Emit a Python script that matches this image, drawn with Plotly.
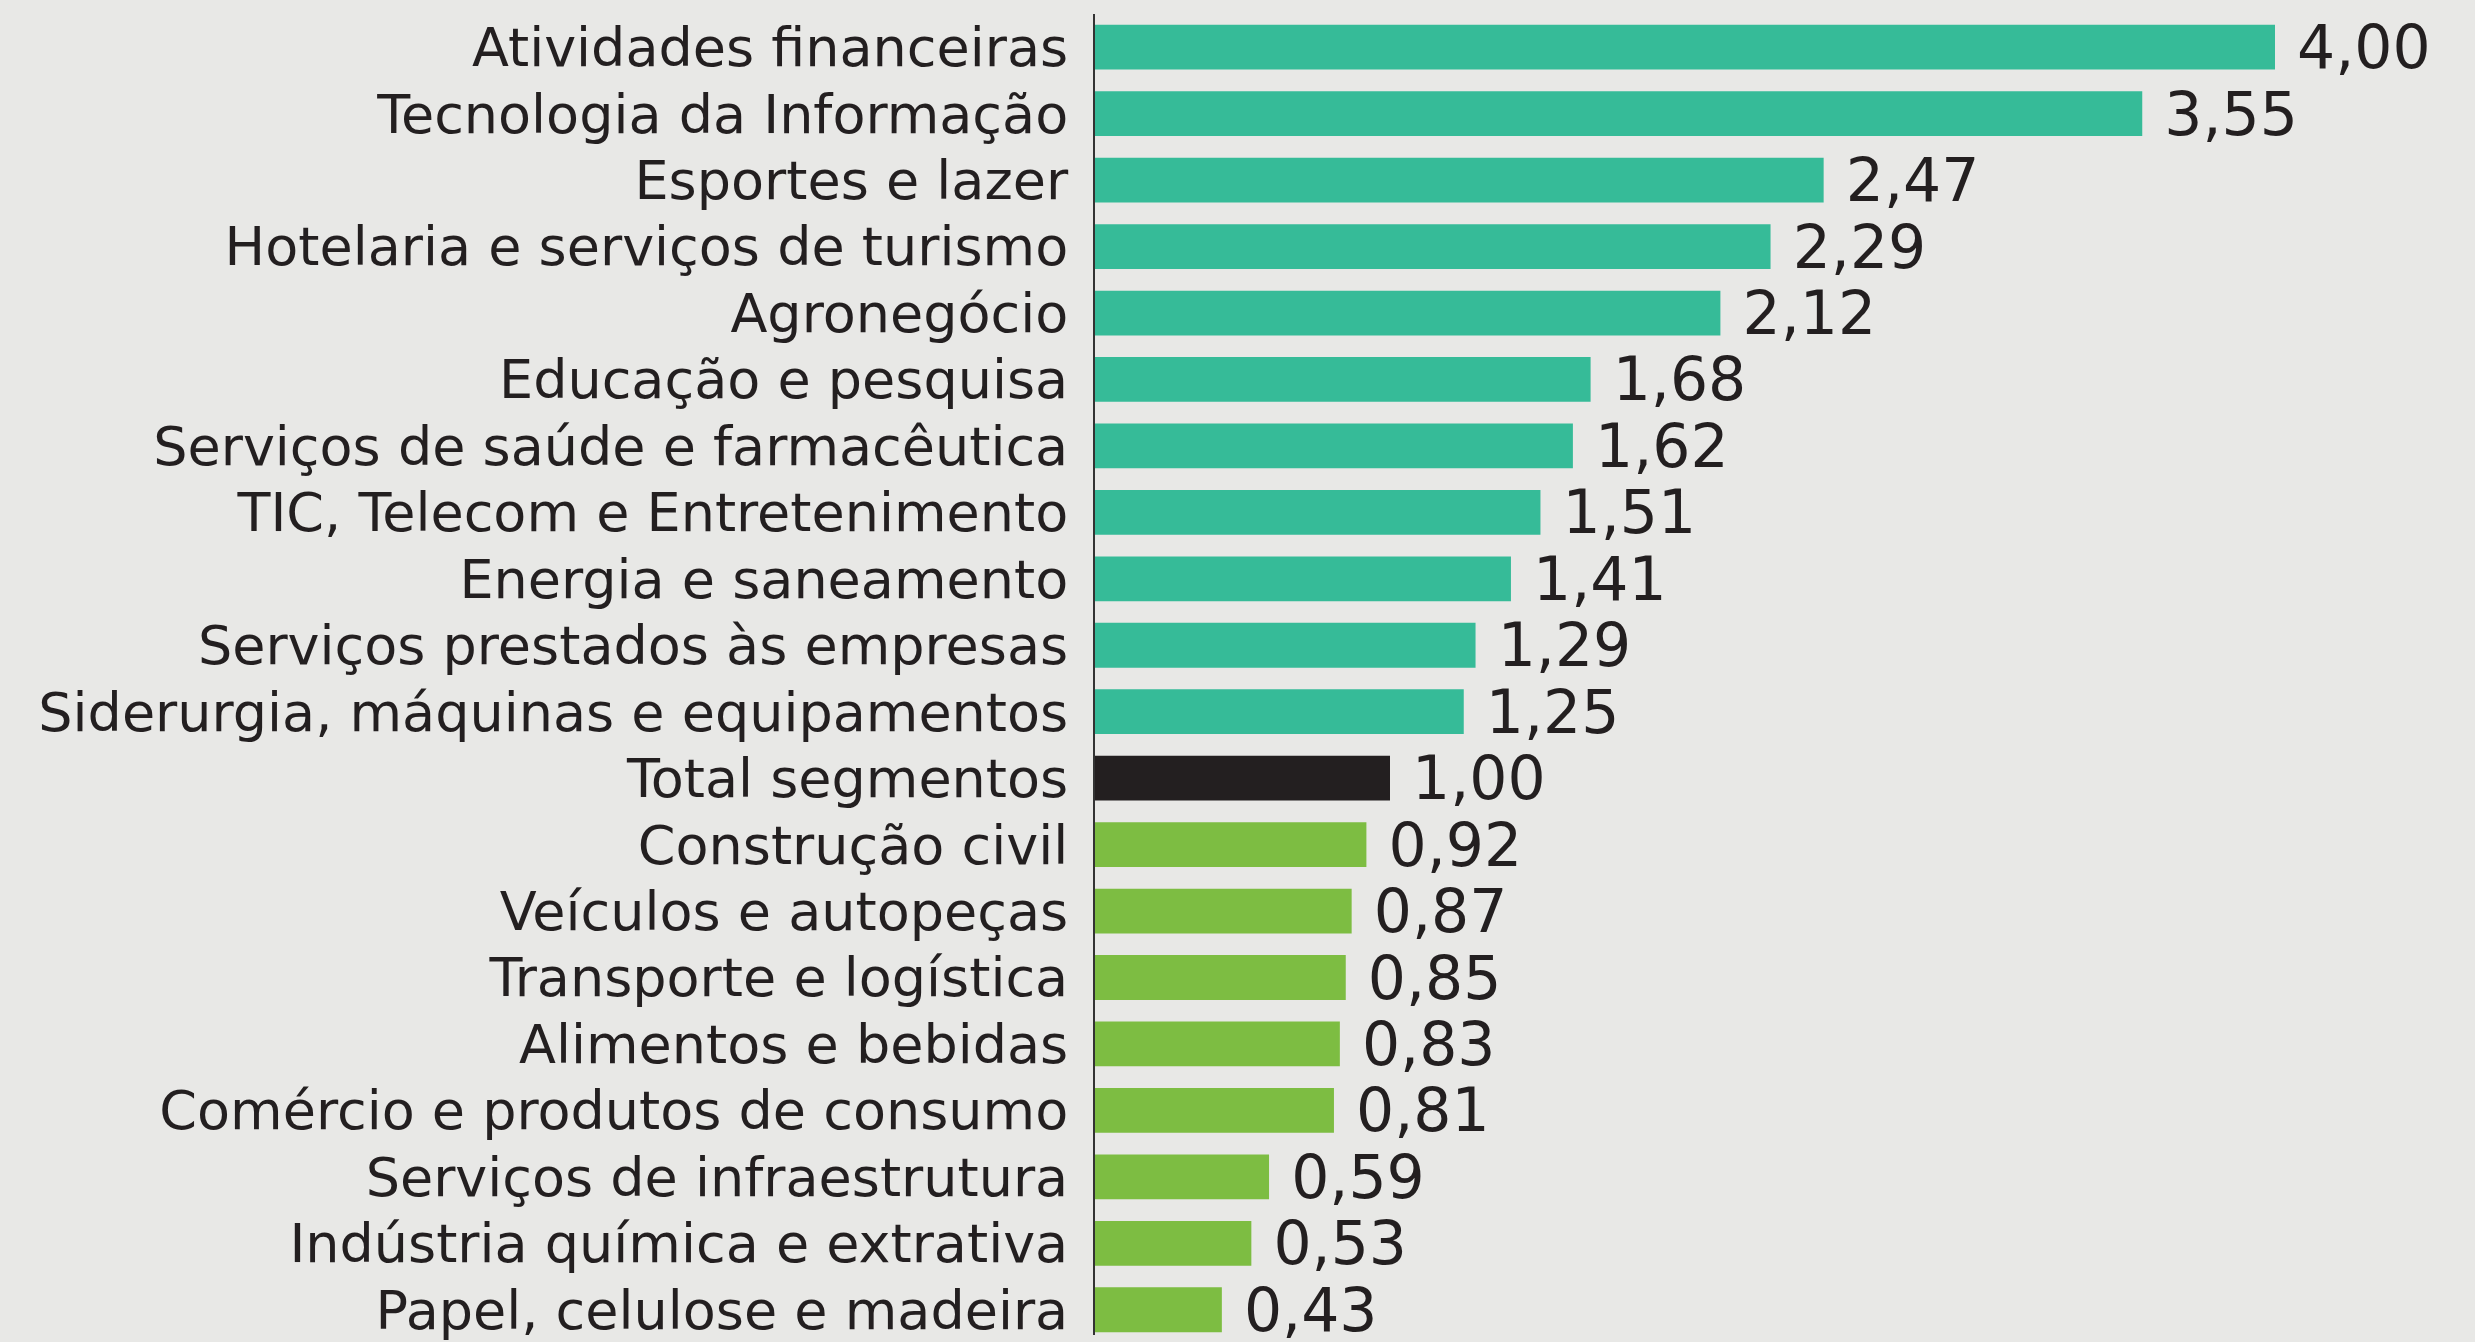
import plotly.graph_objects as go

# ==========================================
# data
# ==========================================
categories = [
    "Atividades financeiras",
    "Tecnologia da Informação",
    "Esportes e lazer",
    "Hotelaria e serviços de turismo",
    "Agronegócio",
    "Educação e pesquisa",
    "Serviços de saúde e farmacêutica",
    "TIC, Telecom e Entretenimento",
    "Energia e saneamento",
    "Serviços prestados às empresas",
    "Siderurgia, máquinas e equipamentos",
    "Total segmentos",
    "Construção civil",
    "Veículos e autopeças",
    "Transporte e logística",
    "Alimentos e bebidas",
    "Comércio e produtos de consumo",
    "Serviços de infraestrutura",
    "Indústria química e extrativa",
    "Papel, celulose e madeira",
]
values = [4.00, 3.55, 2.47, 2.29, 2.12, 1.68, 1.62, 1.51, 1.41, 1.29, 1.25,
          1.00, 0.92, 0.87, 0.85, 0.83, 0.81, 0.59, 0.53, 0.43]
groups = ["acima"] * 11 + ["total"] + ["abaixo"] * 8

# ==========================================
# styles
# ==========================================
COLORS = {"acima": "#36bb98", "total": "#231f20", "abaixo": "#7dbd42"}
BG = "#e8e8e6"
TXT = "#231f20"
FONT = "DejaVu Sans"

bar_colors = [COLORS[g] for g in groups]

fig = go.Figure()
fig.add_trace(go.Bar(
    x=values, y=categories, orientation="h",
    marker=dict(color=bar_colors, line=dict(width=0)),
    width=0.674,
    texttemplate=" %{x:.2f}", textposition="outside",
    textfont=dict(family=FONT, size=60, color=TXT),
    constraintext="none", cliponaxis=False,
    hoverinfo="skip",
))

# plot width = 2475 - 1095 - 200 = 1180px, so 4.00 lands on the right edge of the plot area
fig.update_layout(
    width=2475, height=1342,
    paper_bgcolor=BG, plot_bgcolor=BG,
    separators=",.",
    showlegend=False,
    margin=dict(l=1095, r=200, t=14, b=0, pad=0),
    font=dict(family=FONT, color=TXT),
    xaxis=dict(range=[0, 4.0], visible=False, fixedrange=True),
    yaxis=dict(
        range=[19.38, -0.5],
        showline=True, linecolor="#333333", linewidth=2,
        showgrid=False, zeroline=False,
        ticks="", ticklabelstandoff=14,
        tickfont=dict(family=FONT, size=54, color=TXT),
    ),
)

fig.write_html(
    "out.html",
    config={"displayModeBar": False},
    post_script="document.body.style.margin='0';document.body.style.overflow='hidden';",
)
